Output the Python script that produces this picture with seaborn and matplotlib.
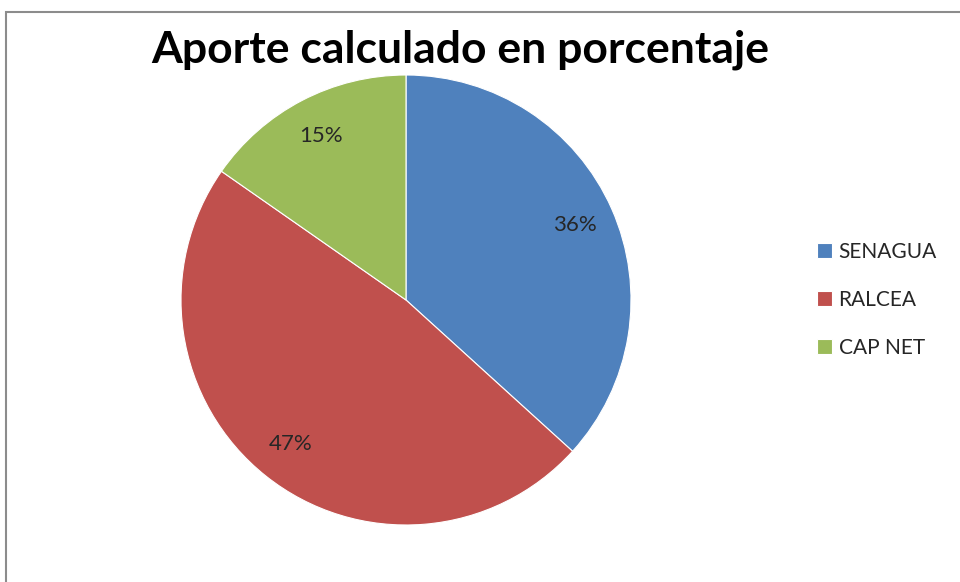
import matplotlib
matplotlib.use("Agg")
import matplotlib.pyplot as plt
import seaborn as sns
from matplotlib.patches import Rectangle

categories = ["SENAGUA", "RALCEA", "CAP NET"]
values = [36, 47, 15]
pct_labels = ["36%", "47%", "15%"]
colors = ["#4F81BD", "#C0504D", "#9BBB59"]
title = "Aporte calculado en porcentaje"

sns.set_theme(style="white")
plt.rcParams["font.family"] = ["Lato", "DejaVu Sans"]

fig = plt.figure(figsize=(9.6, 5.82), dpi=100)
fig.patch.set_facecolor("white")

# chart frame (top and left edges visible)
fig.patches.append(Rectangle((6 / 960, -0.05), 1.2, (582 - 12) / 582 + 0.05,
                             transform=fig.transFigure, fill=False,
                             edgecolor="#8c8c8c", linewidth=1.5))

ax = fig.add_axes([181 / 960, (582 - 525) / 582, 450 / 960, 450 / 582])
wedges, texts = ax.pie(values, labels=pct_labels, colors=colors,
                       startangle=90, counterclock=False,
                       labeldistance=0.82,
                       wedgeprops=dict(edgecolor="white", linewidth=0.8),
                       textprops=dict(fontsize=16, color="#262626"))
for t in texts:
    t.set_horizontalalignment("center")
    t.set_verticalalignment("center")
ax.set_xlim(-1, 1)
ax.set_ylim(-1, 1)
ax.set_aspect("equal")

fig.text(460 / 960, 1 - 50 / 582, title, ha="center", va="center",
         fontsize=32, fontweight="bold", color="black")

leg = fig.legend(wedges, categories, loc="center left",
                 bbox_to_anchor=(798 / 960, 1 - 300 / 582),
                 frameon=False, fontsize=15, handlelength=0.75,
                 handleheight=0.75, handletextpad=0.3, labelspacing=1.35)
for t in leg.get_texts():
    t.set_color("#262626")

fig.savefig("out.png", dpi=100, facecolor="white")
